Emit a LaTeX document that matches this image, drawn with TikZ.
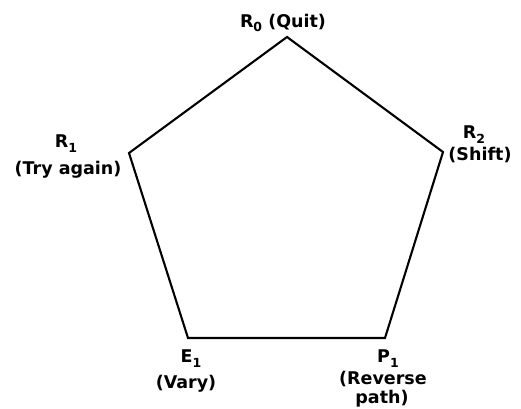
\documentclass[tikz,border=0pt]{standalone}
\usepackage{fontspec}
\setmainfont{DejaVu Sans}
\newcommand{\lbfont}{\fontsize{17.5}{21}\selectfont\bfseries}
\newcommand{\sbx}[1]{\raisebox{-5pt}{\fontsize{12.5}{13}\selectfont #1}}
\begin{document}
\begin{tikzpicture}[x=1pt,y=1pt,
  edge/.style={line width=2.1pt, line join=miter},
  lbl/.style={inner sep=0pt, font=\lbfont, anchor=base}]
\useasboundingbox (0,0) rectangle (521,408);
\coordinate (A) at (287,371);
\coordinate (B) at (129,255);
\coordinate (C) at (443,256);
\coordinate (D) at (188,70);
\coordinate (E) at (385,70);
\draw[edge] (A) -- (C) -- (E) -- (D) -- (B) -- cycle;
\node[lbl] (r0) at (283,381) {R\sbx{0} (Quit)};
\node[lbl] (r1) at (66,261) {R\sbx{1}};
\node[lbl] (r1b) at (68,234) {(Try again)};
\node[lbl] (r2) at (474,270) {R\sbx{2}};
\node[lbl] (r2b) at (480,248) {(Shift)};
\node[lbl] (e1) at (191,46) {E\sbx{1}};
\node[lbl] (e1b) at (186,20) {(Vary)};
\node[lbl] (p1) at (388,46) {P\sbx{1}};
\node[lbl] (p1b) at (383,24) {(Reverse};
\node[lbl] (p1c) at (382,4.5) {path)};
\end{tikzpicture}
\end{document}
